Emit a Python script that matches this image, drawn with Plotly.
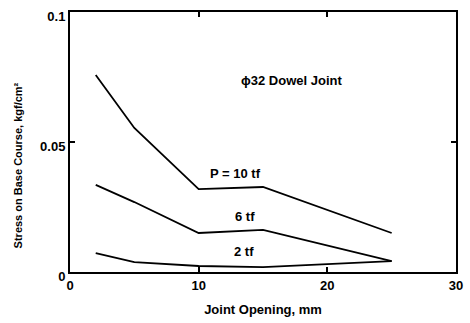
import plotly.graph_objects as go

# Joint opening (mm) and base-course stress (kgf/cm²) for each load level
joint_opening = [2, 5, 10, 15, 25]
stress_10tf = [0.0758, 0.0554, 0.0319, 0.0327, 0.0150]
stress_6tf = [0.0335, 0.0269, 0.0150, 0.0162, 0.0042]
stress_2tf = [0.0073, 0.0038, 0.0023, 0.0019, 0.0042]

series = [("P = 10 tf", stress_10tf), ("6 tf", stress_6tf), ("2 tf", stress_2tf)]

# Curve labels: (text, x, y)
curve_labels = [("P = 10 tf", 12.9, 0.0380), ("6 tf", 13.6, 0.0215), ("2 tf", 13.5, 0.0077)]
note = ("ϕ32 Dowel Joint", 17.25, 0.0738)

x_ticks = [0, 10, 20, 30]
y_ticks = [0, 0.05, 0.1]
y_tick_text = ["0", "0.05", "0.1"]

FONT = "Liberation Sans, Arial, sans-serif"

fig = go.Figure()
for name, ys in series:
    fig.add_trace(go.Scatter(
        x=joint_opening, y=ys, mode="lines", name=name,
        line=dict(color="black", width=1.8), showlegend=False,
        hoverinfo="skip",
    ))

for text, x, y in curve_labels + [note]:
    fig.add_annotation(
        x=x, y=y, text=text, showarrow=False,
        font=dict(family=FONT, size=13, color="black", weight="bold"),
    )

# Y-axis title placed as a rotated annotation so it can sit slightly low
fig.add_annotation(
    xref="paper", x=0, xshift=-60, yref="y", y=0.041,
    text="Stress on Base Course, kgf/cm²", textangle=-90, showarrow=False,
    font=dict(family=FONT, size=11, color="black", weight="bold"),
)

axis_common = dict(
    showline=True, linecolor="black", linewidth=2, mirror="allticks",
    ticks="inside", ticklen=5, tickwidth=1.5, tickcolor="black",
    showgrid=False, zeroline=False,
    tickfont=dict(family=FONT, size=13, color="black", weight="bold"),
)

fig.update_xaxes(
    range=[0, 30], tickvals=x_ticks,
    title=dict(text="Joint Opening, mm", standoff=13,
               font=dict(family=FONT, size=13, color="black", weight="bold")),
    **axis_common,
)
fig.update_yaxes(
    range=[0, 0.1], tickvals=y_ticks, ticktext=y_tick_text,
    ticklabelshift=4,
    **axis_common,
)

fig.update_layout(
    width=470, height=323,
    margin=dict(l=70, r=7, t=12, b=51),
    paper_bgcolor="white", plot_bgcolor="white",
)

fig.write_html("out.html")
